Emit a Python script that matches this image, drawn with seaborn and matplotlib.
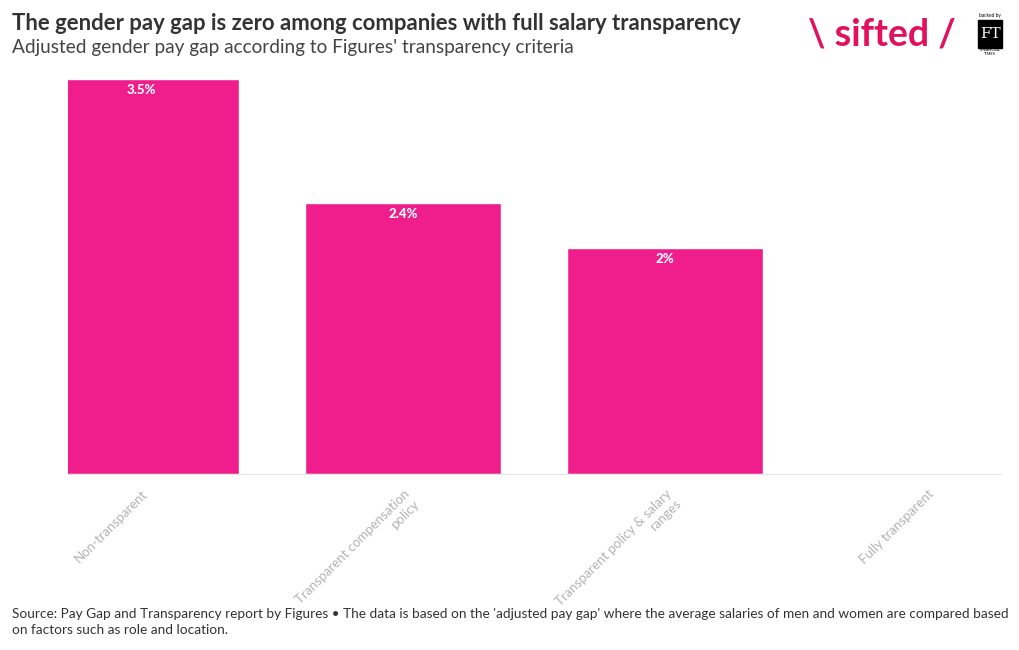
import pandas as pd
import matplotlib.pyplot as plt
import seaborn as sns
from matplotlib.patches import Rectangle

# Datos del gráfico
categorias = ['Non-transparent', 'Transparent compensation\npolicy',
              'Transparent policy & salary\nranges', 'Fully transparent']
brecha = [3.5, 2.4, 2.0, 0.0]
etiquetas = ['3.5%', '2.4%', '2%', '']

df = pd.DataFrame({'cat': categorias, 'gap': brecha})

sns.set_style('white')
plt.rcParams['font.family'] = ['Lato', 'DejaVu Sans']

fig = plt.figure(figsize=(10.2, 6.5), dpi=100)
ax = fig.add_axes([68 / 1020, (650 - 474) / 650, (1001 - 68) / 1020, (474 - 79) / 650])

sns.barplot(data=df, x='cat', y='gap', color='#F01E8C', width=0.75, saturation=1, ax=ax)

# Etiquetas de valor dentro de las barras
for i, (v, t) in enumerate(zip(brecha, etiquetas)):
    if t:
        ax.text(i, v - 0.04, t, ha='center', va='top', color='white',
                fontsize=9.5, fontweight='black')

ax.set_xlim(-0.279, 3.282)
ax.set_ylim(0, 3.5)
ax.set_xlabel('')
ax.set_ylabel('')
ax.set_yticks([])
for s in ['top', 'right', 'left']:
    ax.spines[s].set_visible(False)
ax.spines['bottom'].set_color('#e6e6e6')
ax.tick_params(axis='x', length=6, color='#e6e6e6', pad=4)
ax.set_xticks(range(len(categorias)))
ax.set_xticklabels(categorias, rotation=45, ha='right', rotation_mode='anchor',
                   fontsize=9.5, color='#b3b3b3', multialignment='right')

# Títulos
fig.text(12 / 1020, 1 - 24 / 650, 'The gender pay gap is zero among companies with full salary transparency',
         fontsize=15.9, fontweight='bold', color='#333333', va='center')
fig.text(12 / 1020, 1 - 48 / 650, "Adjusted gender pay gap according to Figures' transparency criteria",
         fontsize=13.7, color='#444444', va='center')

# Logo
fig.text(882 / 1020, 1 - 34 / 650, '\\ sifted /', fontsize=27, fontweight='bold',
         color='#E0115F', ha='center', va='center')
fig.patches.append(Rectangle((978 / 1020, 1 - 48 / 650), 24 / 1020, 28 / 650,
                             transform=fig.transFigure, color='black'))
fig.text(990 / 1020, 1 - 34 / 650, 'FT', fontsize=11, color='white', family='DejaVu Serif',
         ha='center', va='center')
fig.text(990 / 1020, 1 - 16 / 650, 'backed by', fontsize=3.5, color='black', ha='center', va='center')
fig.text(990 / 1020, 1 - 52 / 650, 'FINANCIAL\nTIMES', fontsize=3, color='black', ha='center',
         va='center', linespacing=1.1)

# Fuente
fig.text(12 / 1020, 1 - 622 / 650,
         "Source: Pay Gap and Transparency report by Figures • The data is based on the 'adjusted pay gap' where the average salaries of men and women are compared based\non factors such as role and location.",
         fontsize=9.8, color='#333333', va='center', linespacing=1.5)

plt.savefig('out.png', dpi=100)
